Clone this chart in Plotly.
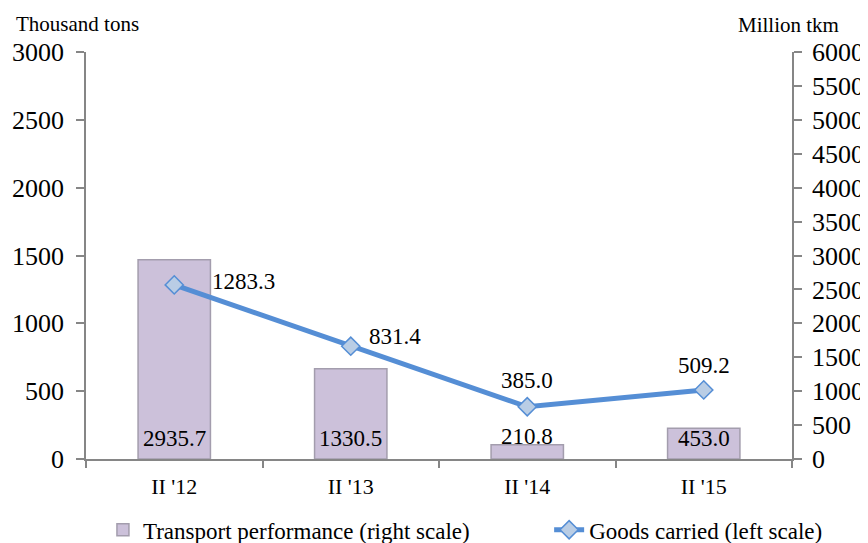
import plotly.graph_objects as go

categories = ["II '12", "II '13", "II '14", "II '15"]
transport_perf = [2935.7, 1330.5, 210.8, 453.0]   # Million tkm (right scale)
goods_carried = [1283.3, 831.4, 385.0, 509.2]     # Thousand tons (left scale)
left_ticks = list(range(0, 3001, 500))
right_ticks = list(range(0, 6001, 500))

FONT = "Liberation Serif"
AX = "#868686"
LINE_C = "#558ED5"

fig = go.Figure()
# bars on the right-hand axis (yaxis, drawn first), line on left-hand axis (yaxis2, on top)
fig.add_trace(go.Bar(
    x=categories, y=transport_perf, yaxis="y",
    name="Transport performance (right scale)", legend="legend",
    marker=dict(color="#CCC1DA", line=dict(color="#A39DAD", width=1.5)),
))
fig.add_trace(go.Scatter(
    x=categories, y=goods_carried, yaxis="y2",
    name="Goods carried (left scale)", mode="lines+markers", legend="legend2",
    line=dict(color=LINE_C, width=5),
    marker=dict(symbol="diamond", size=14, color="#B9CDE5",
                line=dict(color=LINE_C, width=1.5)),
))

ann = []
# bar labels
for c, v in zip(categories, transport_perf):
    if v < 300:
        ann.append(dict(x=c, y=v, xref="x", yref="y", text=f"{v:.1f}",
                        showarrow=False, yanchor="bottom", yshift=-6))
    else:
        ann.append(dict(x=c, y=0, xref="x", yref="y", text=f"{v:.1f}",
                        showarrow=False, yanchor="middle", yshift=21))
# line labels
shifts = [(69, 3), (44, 10), (0, 26), (0, 24)]
for (c, v), (dx, dy) in zip(zip(categories, goods_carried), shifts):
    ann.append(dict(x=c, y=v, xref="x", yref="y2", text=f"{v:.1f}",
                    showarrow=False, xshift=dx, yshift=dy))
for a in ann:
    a["font"] = dict(family=FONT, size=23, color="black")

ann.append(dict(x=-0.102, y=1.069, xref="paper", yref="paper", text="Thousand tons",
                showarrow=False, xanchor="left", yanchor="middle",
                font=dict(family=FONT, size=21, color="black")))
ann.append(dict(x=0.922, y=1.066, xref="paper", yref="paper", text="Million tkm",
                showarrow=False, xanchor="left", yanchor="middle", borderpad=0,
                font=dict(family=FONT, size=21, color="black")))

leg_common = dict(orientation="h", y=-0.174, xanchor="left", yanchor="middle",
                  font=dict(family=FONT, size=23, color="black"),
                  bgcolor="rgba(0,0,0,0)")

# page body has an 8px margin, so the figure is 8px smaller and shifted
fig.update_layout(
    width=860, height=535,
    margin=dict(l=78, r=76, t=44, b=84, autoexpand=False),
    paper_bgcolor="white", plot_bgcolor="white",
    font=dict(family=FONT, color="black"),
    bargap=0.59,
    showlegend=True,
    legend=dict(x=0.024, **leg_common),
    legend2=dict(x=0.656, **leg_common),
    xaxis=dict(type="category", showline=True, linecolor=AX, linewidth=1.5,
               ticks="outside", tickson="boundaries", ticklen=7, tickcolor=AX,
               tickwidth=1.5, showgrid=False, tickfont=dict(size=22, family=FONT),
               ticklabelstandoff=7),
    yaxis=dict(range=[0, 6000], tickvals=right_ticks, side="right",
               showline=True, linecolor=AX, linewidth=1.5, ticks="outside", ticklen=8,
               tickcolor=AX, tickwidth=1.5, showgrid=False, zeroline=False,
               tickfont=dict(size=26, family=FONT), ticklabelstandoff=5),
    yaxis2=dict(range=[0, 3000], tickvals=left_ticks, overlaying="y", side="left",
                showline=True, linecolor=AX, linewidth=1.5, ticks="outside", ticklen=8,
                tickcolor=AX, tickwidth=1.5, showgrid=False, zeroline=False,
                tickfont=dict(size=26, family=FONT), ticklabelstandoff=7),
    annotations=ann,
)
fig.write_html("out.html")
